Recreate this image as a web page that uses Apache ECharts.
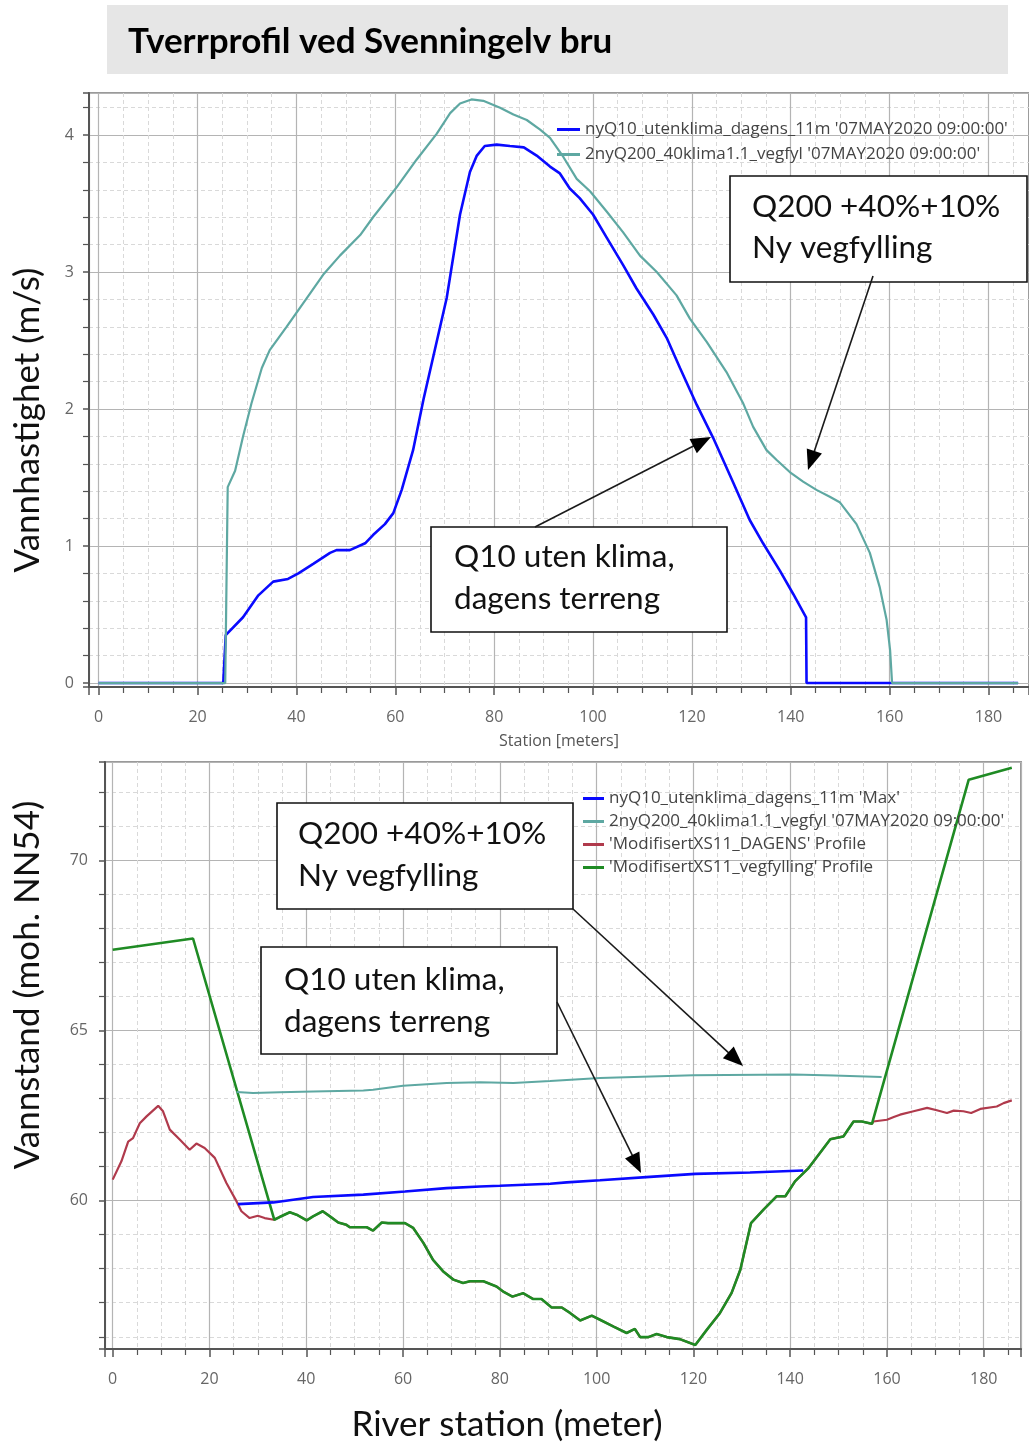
<!DOCTYPE html>
<html>
<head>
<meta charset="utf-8">
<script src="https://cdn.jsdelivr.net/npm/echarts@6/dist/echarts.min.js"></script>
<style>
html,body{margin:0;padding:0;background:#fff;}
#c{width:1029px;height:1443px;}
</style>
</head>
<body>
<div id="c"></div>
<script>
// ---------- Texts ----------
const headerTitle = 'Tverrprofil ved Svenningelv bru';
const velAxisTitle = 'Vannhastighet (m/s)';
const velStationTitle = 'Station [meters]';
const wsAxisTitle = 'Vannstand (moh. NN54)';
const wsStationTitle = 'River station (meter)';
const nameQ10Vel = "nyQ10_utenklima_dagens_11m '07MAY2020 09:00:00'";
const nameQ200 = "2nyQ200_40klima1.1_vegfyl '07MAY2020 09:00:00'";
const nameQ10Max = "nyQ10_utenklima_dagens_11m 'Max'";
const nameDagens = "'ModifisertXS11_DAGENS' Profile";
const nameVegfylling = "'ModifisertXS11_vegfylling' Profile";
const noteQ200 = ['Q200 +40%+10%', 'Ny vegfylling'];
const noteQ10 = ['Q10 uten klima,', 'dagens terreng'];

// ---------- Top chart: velocity ----------
const q10VelStation = [0, 25.2, 25.7, 29.2, 32.3, 35.3, 38.3, 40.4, 43.4, 46.8, 48.1, 50.8, 53.9, 55.5, 57.9, 59.6, 61.3, 63.6, 65.7, 70.4, 73.1, 75.1, 76.5, 78.1, 80.5, 83.2, 86.0, 88.6, 91.3, 93.3, 95.3, 97.3, 100.0, 102.8, 106.1, 108.8, 112.2, 114.9, 117.6, 121.0, 124.3, 128.4, 131.7, 134.4, 137.8, 140.5, 143.1, 143.2, 186.0];
const q10Vel = [0, 0, 0.35, 0.48, 0.64, 0.74, 0.76, 0.80, 0.87, 0.95, 0.97, 0.97, 1.02, 1.08, 1.16, 1.24, 1.41, 1.70, 2.07, 2.81, 3.42, 3.73, 3.85, 3.92, 3.93, 3.92, 3.91, 3.85, 3.77, 3.72, 3.61, 3.54, 3.42, 3.25, 3.05, 2.88, 2.69, 2.52, 2.30, 2.03, 1.79, 1.46, 1.19, 1.02, 0.82, 0.65, 0.48, 0, 0];

const q200VelStation = [0, 25.6, 26.1, 27.6, 29.2, 30.9, 33.0, 34.6, 38.0, 42.1, 45.4, 48.8, 52.9, 55.5, 60.3, 64.3, 68.4, 71.1, 73.1, 75.4, 77.8, 81.2, 83.9, 86.6, 89.3, 91.3, 94.0, 96.7, 99.4, 102.8, 106.1, 109.5, 112.9, 116.9, 119.6, 123.0, 127.0, 130.4, 132.4, 135.1, 137.1, 139.8, 142.5, 145.2, 147.9, 149.9, 153.3, 156.0, 158.0, 159.4, 160.1, 160.5, 186.0];
const q200Vel = [0, 0, 1.43, 1.55, 1.80, 2.04, 2.30, 2.43, 2.60, 2.81, 2.98, 3.12, 3.27, 3.40, 3.62, 3.82, 4.01, 4.16, 4.23, 4.26, 4.25, 4.20, 4.15, 4.11, 4.04, 3.98, 3.84, 3.68, 3.59, 3.44, 3.29, 3.12, 3.00, 2.83, 2.66, 2.49, 2.27, 2.04, 1.87, 1.70, 1.63, 1.54, 1.47, 1.41, 1.36, 1.32, 1.16, 0.95, 0.70, 0.46, 0.24, 0, 0];

// ---------- Bottom chart: water level and terrain ----------
const q10MaxStation = [25.9, 33.2, 41.4, 51.8, 60.4, 69.0, 75.9, 80.0, 90.4, 93.8, 100.7, 111.0, 120.4, 131.7, 142.7];
const q10MaxWs = [59.90, 59.95, 60.11, 60.18, 60.27, 60.37, 60.42, 60.44, 60.50, 60.54, 60.60, 60.70, 60.79, 60.83, 60.89];

const q200WsStation = [25.6, 29.0, 34.5, 41.4, 51.8, 53.8, 60.0, 69.0, 75.9, 82.8, 90.4, 100.7, 120.0, 140.7, 149.0, 158.9];
const q200Ws = [63.20, 63.17, 63.19, 63.21, 63.24, 63.26, 63.38, 63.46, 63.48, 63.46, 63.52, 63.61, 63.69, 63.71, 63.68, 63.64];

// existing terrain, left bank (visible part of DAGENS)
const dagensLeftStation = [0.0, 1.8, 3.2, 4.2, 5.6, 7.0, 9.4, 10.4, 11.8, 13.9, 15.9, 17.3, 19.0, 21.1, 23.5, 25.6, 26.6, 28.3, 30.0, 31.4, 33.3];
const dagensLeftElev = [60.62, 61.16, 61.74, 61.84, 62.28, 62.48, 62.79, 62.63, 62.09, 61.79, 61.50, 61.68, 61.55, 61.26, 60.52, 59.98, 59.69, 59.49, 59.56, 59.49, 59.44];
// channel terrain shared by both profiles
const channelStation = [33.4, 34.5, 36.6, 38.0, 40.1, 41.4, 43.4, 44.9, 46.6, 48.3, 49.0, 52.5, 53.8, 55.6, 56.9, 60.4, 62.1, 64.2, 66.2, 68.3, 70.4, 72.4, 73.8, 76.6, 79.3, 80.7, 82.6, 84.8, 86.9, 88.6, 90.7, 92.8, 94.5, 96.6, 99.0, 100.7, 103.5, 106.2, 107.9, 109.0, 110.7, 112.4, 114.5, 117.2, 120.4, 122.8, 125.5, 127.9, 129.7, 131.9, 134.5, 137.2, 139.0, 141.0, 143.8, 148.3, 151.0, 153.1, 154.8, 156.9];
const channelElev = [59.44, 59.52, 59.66, 59.59, 59.42, 59.54, 59.69, 59.54, 59.36, 59.29, 59.22, 59.22, 59.12, 59.36, 59.34, 59.34, 59.20, 58.76, 58.26, 57.92, 57.68, 57.58, 57.63, 57.63, 57.48, 57.33, 57.18, 57.28, 57.11, 57.11, 56.86, 56.86, 56.70, 56.48, 56.62, 56.50, 56.30, 56.11, 56.23, 55.99, 55.99, 56.08, 55.99, 55.93, 55.76, 56.21, 56.70, 57.29, 57.97, 59.34, 59.74, 60.13, 60.13, 60.57, 60.96, 61.81, 61.89, 62.33, 62.33, 62.26];
// existing terrain, right bank
const dagensRightStation = [157.2, 160.0, 161.4, 162.7, 165.5, 168.3, 170.3, 172.4, 173.8, 175.8, 177.4, 179.3, 182.7, 184.1, 185.8];
const dagensRightElev = [62.33, 62.38, 62.46, 62.53, 62.63, 62.73, 62.66, 62.58, 62.65, 62.63, 62.58, 62.70, 62.77, 62.87, 62.95];
// road fill (vegfylling) embankments
const fillLeftStation = [0.0, 16.6];
const fillLeftElev = [67.38, 67.71];
const fillRightStation = [176.9, 185.8];
const fillRightElev = [72.38, 72.73];

// ---------- Axes ----------
const velStationTicks = {min: -1.96, max: 188.2, step: 20, minor: 4};
const velTicks = {min: -0.029, max: 4.307, step: 1, minor: 5};
const wsStationTicks = {min: -1.59, max: 187.7, step: 20, minor: 4};
const wsTicks = {min: 55.64, max: 72.90, step: 5, minor: 5};

function zip(xs, ys) { return xs.map((x, i) => [x, ys[i]]); }

const C_BLUE = '#0a0aff', C_TEAL = '#5ea8a2', C_RED = '#b03a4c', C_GREEN = '#1f8b24';
const TICK_FONT = 'Open Sans';
const NOTE_FONT = '31.5px Lato';
const TITLE_FONT = '35px Lato';

function axis(kind, gridIndex, t, extra) {
  const isX = kind === 'x';
  return Object.assign({
    type: 'value', gridIndex: gridIndex,
    min: t.min, max: t.max, minInterval: t.step, maxInterval: t.step,
    splitNumber: Math.round((t.max - t.min) / t.step),
    axisLine: {show: true, onZero: false, lineStyle: {color: '#555', width: 2}},
    axisTick: {show: true, inside: false, length: isX ? 8 : 6, lineStyle: {color: '#555', width: 1.5}},
    minorTick: {show: true, splitNumber: t.minor, length: 6, lineStyle: {color: '#555', width: 1.2}},
    splitLine: {show: true, lineStyle: {color: '#b4b4b4', width: 1.2}},
    minorSplitLine: {show: true, lineStyle: {color: '#d9d9d9', width: 1, type: [4, 3]}},
    axisLabel: {show: true, showMinLabel: false, showMaxLabel: false, color: '#666',
      fontSize: 16, fontFamily: TICK_FONT, margin: isX ? 22 : 15}
  }, extra || {});
}

const series = [
  {name: nameQ10Vel, data: zip(q10VelStation, q10Vel), x: 0, color: C_BLUE, w: 2.6},
  {name: nameQ200, data: zip(q200VelStation, q200Vel), x: 0, color: C_TEAL, w: 2.2},
  {name: nameDagens, data: zip(dagensLeftStation.concat(channelStation, dagensRightStation), dagensLeftElev.concat(channelElev, dagensRightElev)), x: 1, color: C_RED, w: 2.2},
  {name: nameVegfylling, data: zip(fillLeftStation.concat(channelStation, fillRightStation), fillLeftElev.concat(channelElev, fillRightElev)), x: 1, color: C_GREEN, w: 2.6},
  {name: nameQ200, data: zip(q200WsStation, q200Ws), x: 1, color: C_TEAL, w: 2},
  {name: nameQ10Max, data: zip(q10MaxStation, q10MaxWs), x: 1, color: C_BLUE, w: 2.6}
].map(s => ({
  type: 'line', name: s.name, data: s.data, xAxisIndex: s.x, yAxisIndex: s.x,
  symbol: 'none', showSymbol: false, silent: true, clip: true,
  lineStyle: {color: s.color, width: s.w}, itemStyle: {color: s.color}
}));

// ---------- Annotations ----------
function arrow(sx, sy, tx, ty) {
  const dx = tx - sx, dy = ty - sy, L = Math.hypot(dx, dy);
  const ux = dx / L, uy = dy / L, hl = 20, hw = 8;
  const bx = tx - ux * hl, by = ty - uy * hl;
  return [
    {type: 'line', z: 100, shape: {x1: sx, y1: sy, x2: bx + ux * 2, y2: by + uy * 2}, style: {stroke: '#1a1a1a', lineWidth: 1.6}},
    {type: 'polygon', z: 101, shape: {points: [[tx, ty], [bx - uy * hw, by + ux * hw], [bx + uy * hw, by - ux * hw]]}, style: {fill: '#000'}}
  ];
}
function note(x1, y1, x2, y2, lines, tx, ty1, ty2) {
  return [
    {type: 'rect', z: 90, shape: {x: x1, y: y1, width: x2 - x1, height: y2 - y1}, style: {fill: '#fff', stroke: '#111', lineWidth: 1.6}},
    {type: 'text', z: 91, x: tx, y: ty1, style: {text: lines[0], font: NOTE_FONT, fill: '#111', verticalAlign: 'middle'}},
    {type: 'text', z: 91, x: tx, y: ty2, style: {text: lines[1], font: NOTE_FONT, fill: '#111', verticalAlign: 'middle'}}
  ];
}

const graphics = [
  {type: 'rect', z: 1, shape: {x: 107, y: 5, width: 901, height: 69}, style: {fill: '#e6e6e6'}},
  {type: 'text', z: 2, x: 128, y: 42, style: {text: headerTitle, font: 'bold 35px Lato', fill: '#000', verticalAlign: 'middle'}},
  {type: 'text', z: 2, x: 28, y: 420, rotation: Math.PI / 2, style: {text: velAxisTitle, font: TITLE_FONT, fill: '#111', align: 'center', verticalAlign: 'middle'}},
  {type: 'text', z: 2, x: 28, y: 985, rotation: Math.PI / 2, style: {text: wsAxisTitle, font: TITLE_FONT, fill: '#111', align: 'center', verticalAlign: 'middle'}},
  {type: 'text', z: 2, x: 507, y: 1425, style: {text: wsStationTitle, font: TITLE_FONT, fill: '#111', align: 'center', verticalAlign: 'middle'}}
].concat(
  note(730, 176, 1027, 282, noteQ200, 752, 207, 248),
  arrow(873, 276, 808, 470),
  note(431, 527, 727, 632, noteQ10, 454, 557, 599),
  arrow(535, 527, 711, 437),
  note(277, 803, 573, 909, noteQ200, 298, 834, 876),
  arrow(573, 909, 743, 1066),
  note(261, 947, 557, 1054, noteQ10, 284, 980, 1022),
  arrow(557, 1002, 641, 1173)
);

const legendText = {fontSize: 17, lineHeight: 17, color: '#444', fontFamily: TICK_FONT};

const option = {
  animation: false,
  backgroundColor: '#fff',
  grid: [
    {left: 89, top: 93, width: 940, height: 594, show: true, borderColor: '#9a9a9a', borderWidth: 2, containLabel: false},
    {left: 105, top: 762, width: 916, height: 587, show: true, borderColor: '#9a9a9a', borderWidth: 2, containLabel: false}
  ],
  xAxis: [
    axis('x', 0, velStationTicks, {name: velStationTitle, nameLocation: 'middle', nameGap: 46,
      nameTextStyle: {fontSize: 16, color: '#555', fontFamily: TICK_FONT}}),
    axis('x', 1, wsStationTicks)
  ],
  yAxis: [
    axis('y', 0, velTicks),
    axis('y', 1, wsTicks, {axisLabel: {show: true, showMinLabel: false, showMaxLabel: false, color: '#666', fontSize: 16, fontFamily: TICK_FONT, margin: 17}})
  ],
  legend: [
    {data: [nameQ10Vel, nameQ200], orient: 'vertical', left: 557, top: 121, padding: 0, itemWidth: 23, itemHeight: 3, icon: 'rect',
      itemGap: 8, selectedMode: false, textStyle: legendText},
    {data: [nameQ10Max, nameQ200, nameDagens, nameVegfylling], orient: 'vertical', left: 583, top: 790, padding: 0, itemWidth: 21, itemHeight: 3, icon: 'rect',
      itemGap: 6, selectedMode: false, textStyle: legendText}
  ],
  series: series,
  graphic: graphics
};

const chart = echarts.init(document.getElementById('c'), null, {renderer: 'canvas', width: 1029, height: 1443});
chart.setOption(option);
</script>
</body>
</html>
